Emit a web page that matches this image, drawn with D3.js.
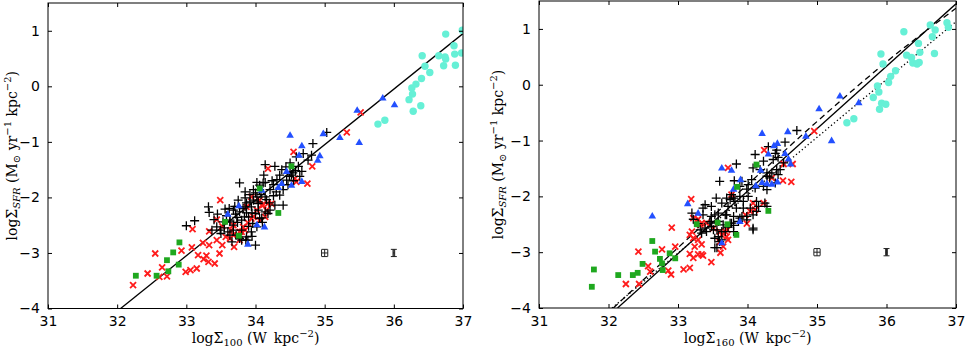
<!DOCTYPE html>
<html lang="en">
<head>
<meta charset="UTF-8">
<title>SFR vs surface brightness</title>
<style>
  body { margin: 0; background: #fff; }
  svg { display: block; }
  .tick text { font-family: "DejaVu Sans", sans-serif; font-size: 14px; fill: #000; }
  .lab { font-family: "DejaVu Serif", serif; font-size: 14px; fill: #000; }
</style>
</head>
<body>
<svg id="chart" width="966" height="348"></svg>
<script src="https://d3js.org/d3.v7.min.js"></script>
<script>
// axis ticks
const xTicks = [31, 32, 33, 34, 35, 36, 37];
const yTicks = [-4, -3, -2, -1, 0, 1];

// typical error bars, drawn at (35,-3) and (36,-3)
const errX = [35, 36];
const errY = [-3, -3];
const errDx = [0.045, 0.012];
const errDy = [0.065, 0.065];

// ---- left panel: log Sigma_100 ----
const leftPlus = [
  [33.00,-2.51],[33.12,-2.42],[33.32,-2.17],[33.33,-2.27],[33.56,-2.21],[33.68,-2.23],[33.63,-2.44],
  [33.77,-1.74],[33.85,-2.01],[33.87,-2.10],[33.86,-2.77],[34.14,-1.41],[34.02,-1.73],[34.14,-1.73],
  [33.75,-2.05],[33.92,-2.08],[33.97,-2.05],[34.04,-2.08],[33.85,-2.17],[33.77,-2.26],[33.87,-2.28],
  [33.73,-2.36],[33.80,-2.41],[33.68,-2.50],[33.63,-2.41],[33.53,-2.44],[33.44,-2.53],[33.49,-2.59],
  [33.37,-2.59],[33.68,-2.59],[33.80,-2.59],[33.87,-2.71],[33.77,-2.74],[33.63,-2.68],[34.00,-2.86],
  [33.94,-2.62],[34.02,-2.53],[34.09,-2.37],[34.14,-2.26],[34.04,-2.23],[33.85,-1.90],[33.97,-1.86],
  [33.94,-2.17],[34.28,-1.44],[34.38,-1.50],[34.50,-1.38],[34.62,-1.44],[34.67,-1.53],[34.54,-1.56],
  [34.49,-1.62],[34.64,-1.62],[34.69,-1.21],[34.83,-1.03],[34.76,-1.33],[35.03,-0.83],[34.11,-1.74],
  [34.06,-1.86],[34.26,-1.77],[34.31,-1.68],[34.21,-1.86],[34.40,-1.77],[34.47,-1.77],[34.40,-1.86],
  [34.14,-1.99],[34.26,-1.97],[34.35,-1.96],[34.04,-2.11],[34.28,-2.14],[34.40,-2.14],[34.21,-2.23],
  [34.00,-2.29],[34.18,-2.29],[34.06,-2.38],[33.96,-2.47],[34.45,-1.69],[34.81,-1.24],[34.59,-1.27],
  [34.50,-1.54],[34.06,-1.78],[34.52,-1.60],[33.80,-2.77],[33.89,-2.77],[34.16,-2.04],[34.02,-1.99],
  [33.58,-2.33],[33.71,-2.30],[33.90,-2.35],[33.60,-2.62],[33.92,-1.95],[33.70,-2.16],
  [33.45,-2.30],[33.55,-2.55],[33.62,-2.20],[33.74,-2.45],[33.82,-2.20],[33.90,-2.52],[33.95,-2.28],
  [34.08,-1.95],[34.20,-2.10],[34.30,-1.90],[34.12,-1.60],[34.35,-1.60],[34.58,-1.52],[34.44,-1.45],
  [33.66,-2.80],[33.72,-2.68],[33.95,-2.70],[34.10,-2.45],[33.50,-2.65],[33.40,-2.40],[33.84,-2.35],
  [34.24,-1.70],[34.55,-1.70],[34.00,-1.92]
];
const leftCross = [
  [32.23,-3.58],[32.44,-3.37],[32.55,-3.01],[32.61,-3.43],[32.65,-3.26],[32.72,-3.42],[32.93,-2.96],
  [32.99,-3.34],[33.06,-3.31],[33.08,-2.90],[33.09,-2.57],[33.15,-3.28],[33.17,-3.04],[33.24,-2.82],
  [33.25,-3.11],[33.29,-3.05],[33.32,-3.16],[33.33,-2.86],[33.41,-3.19],[33.48,-3.01],[33.49,-2.05],
  [33.52,-2.86],[33.69,-2.89],[33.33,-2.61],[33.44,-2.40],[33.52,-2.52],[33.65,-2.59],[33.57,-2.71],
  [33.68,-2.68],[33.77,-2.62],[33.85,-2.59],[33.89,-2.46],[33.94,-2.38],[33.87,-2.17],[33.94,-1.99],
  [34.09,-2.14],[34.16,-2.23],[34.06,-2.41],[34.18,-1.48],[33.63,-2.74],[33.68,-2.50],[33.77,-2.77],
  [33.44,-2.77],[34.06,-2.05],[34.02,-2.23],[34.11,-2.14],[34.14,-2.35],[33.97,-2.35],[34.23,-2.11],
  [34.57,-1.66],[34.59,-1.72],[34.75,-1.75],[34.82,-1.44],[34.55,-1.18],[35.32,-0.83],[35.52,-0.47],
  [33.82,-2.53],[33.80,-2.62],[34.18,-2.11]
];
const leftTri = [
  [33.60,-2.30],[33.76,-2.15],[33.89,-2.84],[34.02,-2.49],[34.13,-2.53],[34.09,-1.87],[34.33,-1.82],
  [34.38,-1.75],[34.45,-1.53],[34.52,-1.78],[34.67,-1.71],[34.50,-0.88],[34.67,-1.07],[34.63,-1.24],
  [34.90,-1.33],[34.93,-1.25],[34.98,-0.85],[35.22,-0.92],[35.50,-1.01],[35.47,-0.43],[35.84,-0.21],
  [36.01,-0.33]
];
const leftSquare = [
  [32.27,-3.41],[32.57,-3.41],[32.74,-3.33],[32.72,-3.13],[32.81,-2.99],[32.89,-3.21],[32.90,-2.81],
  [33.56,-2.44],[33.76,-2.69],[34.06,-1.84],[34.33,-2.28],[34.52,-1.44]
];
const leftCircle = [
  [35.77,-0.68],[35.87,-0.61],[36.22,-0.24],[36.28,-0.45],[36.39,-0.35],[36.27,-0.14],[36.26,-0.03],
  [36.32,0.04],[36.40,0.14],[36.52,0.25],[36.45,0.36],[36.41,0.55],[36.65,0.55],[36.75,0.94],
  [36.87,0.73],[36.88,0.58],[36.74,0.53],[36.75,0.49],[36.72,0.37],[36.89,0.38],[36.99,1.01],
  [36.98,0.60]
];
const leftFit = [[32.05, -4], [37, 0.95]];

// ---- right panel: log Sigma_160 ----
const rightPlus = [
  [34.54,-1.03],[34.71,-0.82],[34.40,-1.23],[34.44,-1.30],[34.52,-1.40],[34.37,-1.34],[34.23,-1.37],
  [33.84,-1.42],[34.11,-1.25],[34.30,-1.11],[34.42,-1.17],[34.47,-1.52],[34.18,-1.52],[34.42,-1.52],
  [34.08,-1.49],[34.28,-1.58],[33.60,-1.73],[33.92,-1.73],[33.81,-1.72],[34.06,-1.70],[34.28,-1.64],
  [34.35,-1.58],[34.23,-1.82],[34.11,-1.85],[33.99,-1.87],[33.89,-1.82],[34.01,-1.79],[34.28,-1.88],
  [34.40,-1.76],[34.32,-1.67],[34.44,-1.61],[34.01,-2.00],[33.89,-2.00],[33.77,-1.97],[33.70,-2.03],
  [33.75,-2.06],[33.82,-2.09],[33.94,-2.09],[33.55,-2.03],[33.63,-2.12],[33.48,-2.18],[33.36,-2.21],
  [33.72,-2.18],[33.84,-2.21],[33.94,-2.21],[34.04,-2.21],[34.13,-2.27],[34.25,-2.12],[34.28,-2.18],
  [34.16,-2.18],[33.20,-2.30],[33.36,-2.33],[33.48,-2.36],[33.58,-2.30],[33.70,-2.33],[33.80,-2.36],
  [33.89,-2.39],[33.99,-2.36],[34.08,-2.33],[33.46,-2.45],[33.58,-2.45],[33.65,-2.51],[33.75,-2.48],
  [33.87,-2.45],[33.48,-2.54],[33.56,-2.60],[33.63,-2.63],[33.41,-2.63],[33.34,-2.66],[33.72,-2.55],
  [33.80,-2.52],[34.08,-2.57],[33.53,-2.75],[33.63,-2.78],[33.56,-2.92],[33.22,-2.41],[33.29,-2.49],
  [33.39,-2.57],[33.32,-2.60],[33.39,-2.15],[33.80,-2.03],[34.13,-2.09],[33.53,-2.33],[33.68,-2.33],
  [33.92,-2.36],[33.99,-2.42],[33.48,-2.48],[33.77,-2.48],[33.51,-2.60],[33.68,-2.63],[33.80,-2.63],
  [34.08,-2.60],[33.58,-2.72],[33.60,-2.81],[33.53,-2.92]
];
const rightCross = [
  [32.25,-3.57],[32.44,-3.57],[32.43,-2.99],[32.57,-3.25],[32.60,-3.35],[32.77,-2.95],[32.86,-3.33],
  [32.90,-3.40],[32.91,-2.56],[33.08,-3.31],[33.17,-3.28],[33.17,-3.03],[33.22,-3.10],[32.96,-2.90],
  [33.17,-2.69],[33.20,-2.63],[33.22,-2.75],[33.29,-2.78],[33.34,-2.86],[33.24,-2.90],[33.29,-3.04],
  [33.36,-3.06],[33.48,-3.18],[33.22,-2.39],[33.19,-2.05],[33.34,-2.48],[33.51,-2.57],[33.60,-2.63],
  [33.63,-2.69],[33.68,-2.63],[33.70,-2.72],[33.72,-2.78],[33.60,-2.82],[33.65,-2.90],[33.61,-3.01],
  [33.77,-1.97],[34.08,-2.12],[34.11,-2.24],[34.04,-2.27],[34.23,-2.12],[34.35,-1.67],[34.51,-1.72],
  [34.63,-1.74],[34.24,-1.17],[33.72,-1.49],[33.97,-2.33],[33.99,-2.49],[33.32,-2.51],[33.34,-3.04],
  [34.96,-0.83],[34.52,-1.42],[34.65,-1.42],[33.41,-2.48],[33.29,-2.41],[33.71,-2.60]
];
const rightTri = [
  [32.63,-2.35],[33.14,-2.13],[33.29,-2.30],[33.63,-2.83],[33.89,-2.45],[33.80,-1.87],[33.90,-1.70],
  [34.12,-1.81],[34.21,-1.75],[34.28,-1.77],[34.35,-1.78],[34.43,-1.74],[34.19,-1.53],[33.63,-1.49],
  [33.77,-1.53],[34.30,-1.24],[34.38,-1.09],[34.43,-1.05],[34.54,-1.23],[34.62,-1.42],[34.59,-1.33],
  [34.21,-0.87],[34.58,-0.84],[34.84,-0.92],[35.21,-1.00],[35.03,-0.43],[35.33,-0.20],[35.60,-0.32]
];
const rightSquare = [
  [31.76,-3.62],[31.79,-3.31],[32.14,-3.41],[32.35,-3.41],[32.42,-3.37],[32.49,-3.21],[32.63,-2.80],
  [32.67,-2.99],[32.74,-3.12],[32.77,-3.20],[32.78,-3.32],[32.88,-3.02],[32.96,-3.11],[33.27,-2.50],
  [33.57,-2.47],[33.71,-2.50],[33.84,-2.69],[34.30,-2.26],[33.85,-1.83],[34.13,-1.43]
];
const rightCircle = [
  [35.43,-0.68],[35.53,-0.61],[35.81,-0.23],[35.90,-0.44],[35.93,-0.33],[35.99,-0.35],[35.89,-0.13],
  [35.87,-0.02],[36.03,0.04],[36.06,0.15],[36.13,0.25],[35.95,0.37],[35.92,0.55],[36.25,0.95],
  [36.29,0.53],[36.36,0.49],[36.38,0.39],[36.44,0.37],[36.47,0.40],[36.48,0.58],[36.46,0.74],
  [36.69,0.56],[36.66,0.86],[36.70,0.98],[36.63,1.07],[36.87,1.11],[36.89,1.03]
];
const rightFitSolid = [[32.13, -4], [37, 1.45]];
const rightFitDashed = [[32.07, -4], [33, -2.92], [34, -1.79], [35, -0.66], [36, 0.41], [37, 1.37]];
const rightFitDotted = [[32.05, -4], [37, 1.13]];

const colors = { cross: "#ff1c1c", tri: "#2350ff", square: "#1fa81f", circle: "#66f0d6" };

const svg = d3.select("#chart");

function drawPanel(p) {
  const x = d3.scaleLinear().domain([31, 37]).range([p.left, p.right]);
  const y = d3.scaleLinear().domain([-4, 1.5]).range([p.bottom, p.top]);
  const g = svg.append("g");
  const clipId = "clip" + p.id;
  g.append("clipPath").attr("id", clipId).append("rect")
    .attr("x", p.left).attr("y", p.top)
    .attr("width", p.right - p.left).attr("height", p.bottom - p.top);
  const plot = g.append("g").attr("clip-path", "url(#" + clipId + ")");

  // fit lines
  const line = d3.line().x(d => x(d[0])).y(d => y(d[1])).curve(d3.curveMonotoneX);
  p.fits.forEach(f => {
    plot.append("path").datum(f.pts).attr("d", line)
      .attr("fill", "none").attr("stroke", "#000").attr("stroke-width", 1.3)
      .attr("stroke-dasharray", f.dash || null);
  });

  // red x
  plot.append("g").selectAll("path").data(p.cross).enter().append("path")
    .attr("transform", d => "translate(" + x(d[0]) + "," + y(d[1]) + ")")
    .attr("d", "M-3,-3L3,3M-3,3L3,-3")
    .attr("stroke", colors.cross).attr("stroke-width", 1.8);

  // black plus
  plot.append("g").selectAll("path").data(p.plus).enter().append("path")
    .attr("transform", d => "translate(" + x(d[0]) + "," + y(d[1]) + ")")
    .attr("d", "M-4.5,0H4.5M0,-4.5V4.5")
    .attr("stroke", "#000").attr("stroke-width", 1.3);

  // blue triangles
  plot.append("g").selectAll("path").data(p.tri).enter().append("path")
    .attr("transform", d => "translate(" + x(d[0]) + "," + y(d[1]) + ")")
    .attr("d", "M0,-4L3.8,2.6L-3.8,2.6Z")
    .attr("fill", colors.tri);

  // green squares
  plot.append("g").selectAll("rect").data(p.square).enter().append("rect")
    .attr("x", d => x(d[0]) - 2.9).attr("y", d => y(d[1]) - 2.9)
    .attr("width", 5.8).attr("height", 5.8)
    .attr("fill", colors.square);

  // cyan circles
  plot.append("g").selectAll("circle").data(p.circle).enter().append("circle")
    .attr("cx", d => x(d[0])).attr("cy", d => y(d[1])).attr("r", 3.7)
    .attr("fill", colors.circle);

  // error bars
  const eb = g.append("g").attr("stroke", "#222").attr("stroke-width", 1).attr("fill", "none");
  errX.forEach((ex, i) => {
    const cx = x(ex), cy = y(errY[i]);
    const x0 = x(ex - errDx[i]), x1 = x(ex + errDx[i]);
    const y0 = y(errY[i] - errDy[i]), y1 = y(errY[i] + errDy[i]);
    eb.append("line").attr("x1", x0).attr("x2", x1).attr("y1", cy).attr("y2", cy);
    eb.append("line").attr("x1", x0).attr("x2", x0).attr("y1", cy - 3.5).attr("y2", cy + 3.5);
    eb.append("line").attr("x1", x1).attr("x2", x1).attr("y1", cy - 3.5).attr("y2", cy + 3.5);
    eb.append("line").attr("x1", cx).attr("x2", cx).attr("y1", y0).attr("y2", y1);
    eb.append("line").attr("x1", cx - 3).attr("x2", cx + 3).attr("y1", y0).attr("y2", y0);
    eb.append("line").attr("x1", cx - 3).attr("x2", cx + 3).attr("y1", y1).attr("y2", y1);
  });

  // axes, ticks pointing inwards on all four sides
  const fmt = d => d3.format("d")(d).replace("-", "\u2212");
  g.append("g").attr("transform", "translate(0," + p.bottom + ")")
    .call(d3.axisBottom(x).tickValues(xTicks).tickSizeInner(-4).tickSizeOuter(0).tickPadding(8).tickFormat(fmt));
  g.append("g").attr("transform", "translate(0," + p.top + ")")
    .call(d3.axisTop(x).tickValues(xTicks).tickSizeInner(-4).tickSizeOuter(0).tickFormat(""));
  g.append("g").attr("transform", "translate(" + p.left + ",0)")
    .call(d3.axisLeft(y).tickValues(yTicks).tickSizeInner(-4).tickSizeOuter(0).tickPadding(8).tickFormat(fmt));
  g.append("g").attr("transform", "translate(" + p.right + ",0)")
    .call(d3.axisRight(y).tickValues(yTicks).tickSizeInner(-4).tickSizeOuter(0).tickFormat(""));
  g.selectAll(".domain").remove();
  g.selectAll(".tick line").attr("stroke", "#000");

  g.append("rect")
    .attr("x", p.left).attr("y", p.top)
    .attr("width", p.right - p.left).attr("height", p.bottom - p.top)
    .attr("fill", "none").attr("stroke", "#000").attr("stroke-width", 1);

  // axis labels
  const xl = g.append("text").attr("class", "lab")
    .attr("x", (p.left + p.right) / 2).attr("y", 343).attr("text-anchor", "middle");
  xl.append("tspan").text("log\u03A3");
  xl.append("tspan").attr("font-size", "10px").attr("dy", 3).text(p.band);
  xl.append("tspan").attr("dy", -3).text(" (W\u2002kpc");
  xl.append("tspan").attr("font-size", "10px").attr("dy", -6).text("\u22122");
  xl.append("tspan").attr("dy", 6).text(")");

  const yl = g.append("text").attr("class", "lab")
    .attr("transform", "translate(" + p.ylabX + "," + (p.top + p.bottom) / 2 + ") rotate(-90)")
    .attr("text-anchor", "middle");
  yl.append("tspan").text("log\u03A3");
  yl.append("tspan").attr("font-size", "10px").attr("font-style", "italic").attr("dy", 3).text("SFR");
  yl.append("tspan").attr("dy", -3).text(" (M");
  yl.append("tspan").attr("font-size", "10px").attr("dy", 3).text("\u2299");
  yl.append("tspan").attr("dy", -3).text(" yr");
  yl.append("tspan").attr("font-size", "10px").attr("dy", -6).text("\u22121");
  yl.append("tspan").attr("dy", 6).text(" kpc");
  yl.append("tspan").attr("font-size", "10px").attr("dy", -6).text("\u22122");
  yl.append("tspan").attr("dy", 6).text(")");
}

drawPanel({
  id: "L", left: 48, right: 463, top: 3, bottom: 308.5, ylabX: 17, band: "100",
  plus: leftPlus, cross: leftCross, tri: leftTri, square: leftSquare, circle: leftCircle,
  fits: [{ pts: leftFit }]
});
drawPanel({
  id: "R", left: 539, right: 956, top: 1, bottom: 308, ylabX: 503, band: "160",
  plus: rightPlus, cross: rightCross, tri: rightTri, square: rightSquare, circle: rightCircle,
  fits: [{ pts: rightFitSolid }, { pts: rightFitDashed, dash: "6,4" }, { pts: rightFitDotted, dash: "1.3,2.5" }]
});
</script>
</body>
</html>
